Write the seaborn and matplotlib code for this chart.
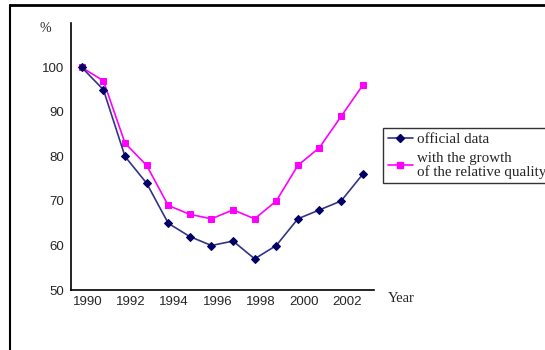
import matplotlib
matplotlib.use("Agg")
import matplotlib.pyplot as plt
import matplotlib.transforms as mtransforms
from matplotlib.lines import Line2D
import seaborn as sns
import pandas as pd

# data
years = [1990, 1991, 1992, 1993, 1994, 1995, 1996, 1997, 1998, 1999, 2000, 2001, 2002, 2003]
official = [100, 95, 80, 74, 65, 62, 60, 61, 57, 60, 66, 68, 70, 76]
quality = [100, 97, 83, 78, 69, 67, 66, 68, 66, 70, 78, 82, 89, 96]
year_labels = ["1990", "1992", "1994", "1996", "1998", "2000", "2002"]
series_names = ["official data", "with the growth\nof the relative quality"]

sns.set_style("white")
plt.rcParams["font.family"] = ["Liberation Sans", "DejaVu Sans"]

df = pd.DataFrame({"year": years, "official": official, "quality": quality})

fig = plt.figure(figsize=(5.45, 3.5), dpi=100)
ax = fig.add_axes([71 / 545, 0.1714, 302.5 / 545, 0.763])

navy = "#000066"
navy_line = "#333388"
magenta = "#FF00FF"

sns.lineplot(data=df, x="year", y="quality", ax=ax, color=magenta, lw=1.2,
             marker="s", markersize=5, markeredgecolor=magenta)
sns.lineplot(data=df, x="year", y="official", ax=ax, color=navy_line, lw=1.2,
             marker="D", markersize=4, markerfacecolor=navy, markeredgecolor=navy)

ax.set_xlim(years[0] - 0.5, years[-1] + 0.5)
ax.set_ylim(50, 110)
ax.set_yticks([50, 60, 70, 80, 90, 100])
ax.set_xticks([y for y in years if y % 2 == 0])
ax.set_xticklabels(year_labels)
ax.set_xticks([y - 0.5 for y in years] + [years[-1] + 0.5], minor=True)
ax.tick_params(axis="x", which="major", length=0, labelsize=9.5, pad=4)
ax.tick_params(axis="x", which="minor", length=4, width=1, color="black", direction="out")
ax.tick_params(axis="y", length=4, width=1, color="black", direction="out", labelsize=9.5, pad=1)
# year labels sit a little right of their points in the original
shift = mtransforms.ScaledTranslation(6 / 100, 0, fig.dpi_scale_trans)
for lab in ax.get_xticklabels():
    lab.set_transform(lab.get_transform() + shift)
ax.set_xlabel("")
ax.set_ylabel("")
for s in ["top", "right"]:
    ax.spines[s].set_visible(False)
for s in ["left", "bottom"]:
    ax.spines[s].set_color("black")
    ax.spines[s].set_linewidth(1.2)

serif = ["Liberation Serif", "DejaVu Serif"]
fig.text(40 / 545, 1 - 28 / 350, "%", fontsize=10, family=serif, va="center")
fig.text(388 / 545, 1 - 298 / 350, "Year", fontsize=10.5, family=serif, va="center")

handles = [
    Line2D([], [], color=navy_line, lw=1.2, marker="D", markersize=4,
           markerfacecolor=navy, markeredgecolor=navy),
    Line2D([], [], color=magenta, lw=1.2, marker="s", markersize=5),
]
leg = fig.legend(handles, series_names, loc="upper left",
                 bbox_to_anchor=(383 / 545, 1 - 128 / 350),
                 prop={"family": serif, "size": 10.8}, frameon=True, fancybox=False,
                 borderpad=0.3, handlelength=1.7, handletextpad=0.25, labelspacing=0.4,
                 borderaxespad=0)
leg.get_frame().set_edgecolor("black")
leg.get_frame().set_linewidth(1.0)
leg.get_texts()[1].set_linespacing(1.0)

# outer frame of the picture
fig.add_artist(Line2D([10 / 545, 1], [1 - 5 / 350, 1 - 5 / 350], color="black", lw=2))
fig.add_artist(Line2D([10 / 545, 10 / 545], [0, 1 - 5 / 350], color="black", lw=1.5))

fig.savefig("out.png", dpi=100)
